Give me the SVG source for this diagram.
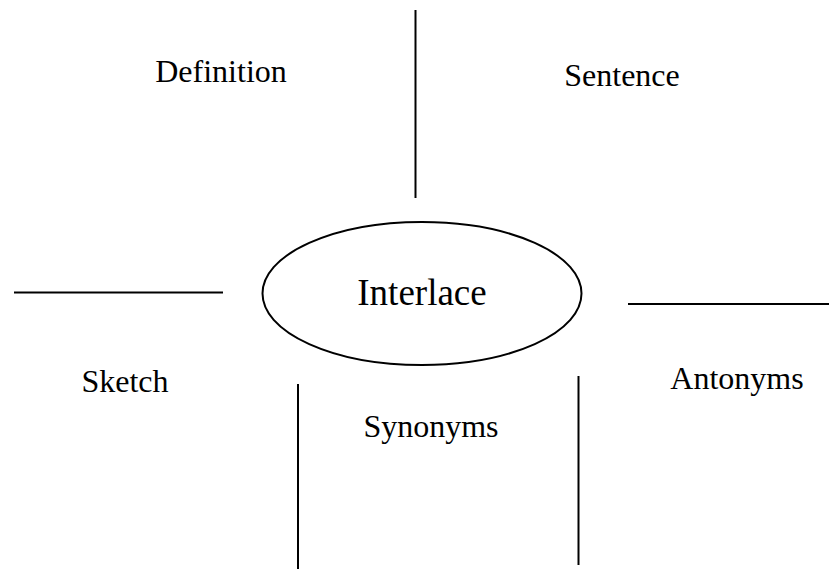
<svg xmlns="http://www.w3.org/2000/svg" width="830" height="569" viewBox="0 0 830 569">
  <style>
    .lbl { font-family: "Liberation Serif", "Times New Roman", serif; font-size: 32px; fill: #000; text-anchor: middle; }
    .big { font-size: 37px; }
    .rule { stroke: #000; stroke-width: 2; fill: none; }
  </style>
  <rect width="830" height="569" fill="#fff"/>

  <!-- dividing rules around the central word -->
  <g id="connectors">
    <line class="rule" x1="415.5" y1="10" x2="415.5" y2="198"/>
    <line class="rule" x1="14" y1="292.5" x2="223" y2="292.5"/>
    <line class="rule" x1="628" y1="304" x2="829" y2="304"/>
    <line class="rule" x1="298" y1="384" x2="298" y2="569"/>
    <line class="rule" x1="578.5" y1="376" x2="578.5" y2="565"/>
  </g>

  <g id="center">
    <ellipse class="rule" cx="422" cy="293.5" rx="159.5" ry="71.5"/>
    <text class="lbl big" x="422" y="305">Interlace</text>
  </g>
  <g id="definition">
    <text class="lbl" x="221" y="82">Definition</text>
  </g>
  <g id="sentence">
    <text class="lbl" x="622" y="86">Sentence</text>
  </g>
  <g id="sketch">
    <text class="lbl" x="125" y="392">Sketch</text>
  </g>
  <g id="synonyms">
    <text class="lbl" x="431" y="437">Synonyms</text>
  </g>
  <g id="antonyms">
    <text class="lbl" x="737" y="389">Antonyms</text>
  </g>
</svg>
